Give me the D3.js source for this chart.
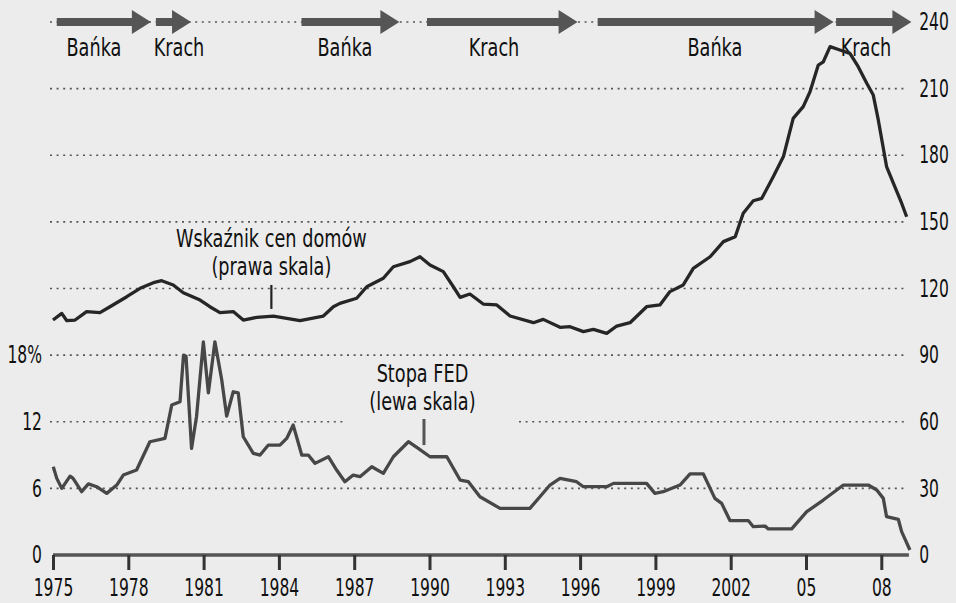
<!DOCTYPE html>
<html>
<head>
<meta charset="utf-8">
<title>Bańka i krach</title>
<script src="https://cdn.jsdelivr.net/npm/d3@7"></script>
<style type="text/css">
    body{ margin:0; background:#ececec; }
    svg text{
        font-family: "Liberation Sans Narrow", "DejaVu Sans Condensed", "Roboto", sans-serif;
        font-size: 24px;
        fill: #111;
    }
</style>
</head>
<body>
<svg id="chart" width="956" height="603"></svg>

<script type="text/javascript">

// house price index, right scale  [year, value]
var hpi = [
  [1975.0,105.8],[1975.35,108.8],[1975.55,105.5],[1975.88,105.8],[1976.34,109.6],[1976.87,109.1],
  [1977.27,111.8],[1977.94,116.3],[1978.47,120.1],[1979.0,122.6],[1979.33,123.5],[1979.79,121.6],
  [1980.19,118.1],[1980.86,114.8],[1981.25,111.8],[1981.65,109.1],[1982.18,109.6],[1982.58,105.8],
  [1983.12,107.0],[1983.78,107.6],[1984.31,106.6],[1984.84,105.5],[1985.77,107.6],[1986.17,111.8],
  [1986.43,113.3],[1987.1,115.6],[1987.5,120.8],[1988.16,124.6],[1988.56,129.8],[1989.22,132.1],
  [1989.62,134.3],[1990.02,130.6],[1990.55,127.6],[1990.95,120.8],[1991.22,116.0],[1991.61,117.5],
  [1992.14,113.0],[1992.68,112.6],[1993.21,107.6],[1994.14,104.6],[1994.53,106.1],[1995.2,102.5],
  [1995.6,102.8],[1996.13,100.6],[1996.53,101.6],[1997.06,99.8],[1997.46,103.1],[1997.99,104.6],
  [1998.65,111.8],[1999.18,112.6],[1999.58,118.6],[2000.11,121.6],[2000.51,129.1],[2001.18,134.3],
  [2001.71,141.1],[2002.18,143.3],[2002.5,153.9],[2002.9,159.5],[2003.24,160.6],[2003.7,170.4],
  [2004.1,179.4],[2004.49,196.6],[2004.89,201.9],[2005.16,208.6],[2005.49,220.6],[2005.69,222.1],
  [2005.96,228.9],[2006.35,227.4],[2006.75,225.9],[2007.08,219.9],[2007.42,212.4],[2007.68,207.1],
  [2007.88,195.9],[2008.21,174.9],[2008.48,167.4],[2008.81,158.4],[2009.01,152.3]
];

// fed funds rate %, left scale  [year, rate]
var fed = [
  [1975.01,7.95],[1975.15,6.9],[1975.35,6.0],[1975.68,7.1],[1975.8,6.9],[1976.14,5.7],[1976.41,6.4],
  [1976.74,6.15],[1977.14,5.55],[1977.54,6.3],[1977.8,7.2],[1978.33,7.65],[1978.86,10.2],[1979.46,10.5],
  [1979.73,13.5],[1980.06,13.8],[1980.2,18.0],[1980.3,17.9],[1980.52,9.6],[1980.72,12.5],[1980.99,19.2],
  [1981.19,14.6],[1981.45,19.2],[1981.72,15.8],[1981.92,12.5],[1982.18,14.7],[1982.38,14.6],[1982.58,10.65],
  [1982.98,9.15],[1983.25,9.0],[1983.58,9.9],[1984.04,9.9],[1984.31,10.5],[1984.57,11.7],[1984.91,9.0],
  [1985.17,9.0],[1985.44,8.25],[1985.97,8.85],[1986.3,7.65],[1986.63,6.6],[1986.96,7.2],[1987.23,7.05],
  [1987.7,7.95],[1988.16,7.35],[1988.56,8.85],[1989.16,10.2],[1989.55,9.6],[1990.02,8.85],[1990.69,8.85],
  [1991.22,6.75],[1991.55,6.6],[1992.01,5.25],[1992.81,4.2],[1994.0,4.2],[1994.4,5.25],[1994.8,6.3],
  [1995.2,6.9],[1995.86,6.6],[1996.13,6.15],[1997.06,6.15],[1997.33,6.45],[1998.65,6.45],[1998.98,5.55],
  [1999.31,5.7],[1999.98,6.3],[2000.38,7.3],[2000.91,7.3],[2001.37,5.1],[2001.64,4.65],[2001.97,3.1],
  [2002.7,3.1],[2002.9,2.55],[2003.37,2.6],[2003.5,2.35],[2004.43,2.35],[2005.03,3.9],[2005.69,4.95],
  [2006.49,6.3],[2007.48,6.3],[2007.82,5.85],[2008.08,5.1],[2008.21,3.45],[2008.68,3.2],[2008.81,2.1],
  [2009.14,0.45]
];

// bubble / crash phases
var phaseNames  = ['Bańka', 'Krach', 'Bańka', 'Krach', 'Bańka', 'Krach'];
var phaseStart  = [1975.15, 1979.1, 1984.9, 1989.9, 1996.7, 2006.2];
var phaseEnd    = [1978.9, 1980.5, 1988.8, 1995.9, 2006.1, 2009.2];
var phaseLabelX = [1976.63, 1980.02, 1986.63, 1992.57, 2001.37, 2007.39];

var yearTicks  = [1975, 1978, 1981, 1984, 1987, 1990, 1993, 1996, 1999, 2002, 2005, 2008];
var yearLabels = ['1975', '1978', '1981', '1984', '1987', '1990', '1993', '1996', '1999', '2002', '05', '08'];
var rightTicks = [0, 30, 60, 90, 120, 150, 180, 210, 240];
var leftTicks  = [0, 6, 12, 18];
var leftLabels = ['0', '6', '12', '18%'];

// squeeze text to look like a condensed face (digits are wider in the fallback font)
var SX = 0.82, SXnum = 0.72;

var svg = d3.select('#chart');

var x  = d3.scaleLinear().domain([1975, 2009]).range([53, 906.4]);
var yR = d3.scaleLinear().domain([0, 240]).range([555, 22]);
var yL = d3.scaleLinear().domain([0, 48]).range([555, 22]);   // 18% == 90

svg.append('rect').attr('width', 956).attr('height', 603).attr('fill', '#ececec');

// gridlines (60 line has a gap for the fed label)
var grid = svg.append('g').attr('stroke', '#555').attr('stroke-width', 1.6).attr('stroke-dasharray', '2,4.6');
rightTicks.filter(function(v){ return v > 0; }).forEach(function(v){
    if(v === 60){
        grid.append('line').attr('x1', 50).attr('x2', 343).attr('y1', yR(v)).attr('y2', yR(v));
        grid.append('line').attr('x1', 519).attr('x2', 906).attr('y1', yR(v)).attr('y2', yR(v));
    } else {
        grid.append('line').attr('x1', 50).attr('x2', v === 240 ? 909 : 906).attr('y1', yR(v)).attr('y2', yR(v));
    }
});

// phase arrows
var arrows = svg.append('g').attr('fill', '#555');
phaseNames.forEach(function(name, i){
    var x0 = x(phaseStart[i]), x1 = x(phaseEnd[i]), xh = x1 - 19, yc = yR(240);
    arrows.append('path')
        .attr('d', 'M' + x0 + ',' + (yc - 4) + 'H' + xh + 'V' + (yc - 12) + 'L' + x1 + ',' + yc +
                   'L' + xh + ',' + (yc + 12) + 'V' + (yc + 4) + 'H' + x0 + 'Z');
    svg.append('text')
        .attr('transform', 'translate(' + x(phaseLabelX[i]) + ',56) scale(' + SX + ',1)')
        .attr('text-anchor', 'middle')
        .text(name);
});

// lines
var lineR = d3.line().x(function(d){ return x(d[0]); }).y(function(d){ return yR(d[1]); });
var lineL = d3.line().x(function(d){ return x(d[0]); }).y(function(d){ return yL(d[1]); });

svg.append('path').datum(fed)
    .attr('d', lineL).attr('fill', 'none')
    .attr('stroke', '#474747').attr('stroke-width', 3.3).attr('stroke-linejoin', 'round');

svg.append('path').datum(hpi)
    .attr('d', lineR).attr('fill', 'none')
    .attr('stroke', '#262626').attr('stroke-width', 3.3).attr('stroke-linejoin', 'round');

// x axis
var xAxis = d3.axisBottom(x)
    .tickValues(yearTicks)
    .tickFormat(function(d, i){ return yearLabels[i]; })
    .tickSizeInner(15).tickSizeOuter(0).tickPadding(9);

var gx = svg.append('g').attr('transform', 'translate(0,555)').call(xAxis);
gx.select('.domain').attr('d', 'M' + x(1975) + ',0H' + x(2009.1)).attr('stroke', '#555').attr('stroke-width', 3.5);
gx.selectAll('.tick line').attr('stroke', '#333').attr('stroke-width', 3);
gx.selectAll('.tick text').attr('dy', '0.71em').attr('transform', 'scale(' + SXnum + ',1)');

// right axis
var gr = svg.append('g').attr('transform', 'translate(912,0)')
    .call(d3.axisRight(yR).tickValues(rightTicks).tickSize(0).tickPadding(10));
gr.select('.domain').remove();
gr.selectAll('.tick text').attr('transform', 'scale(' + SXnum + ',1)');

// left axis
var gl = svg.append('g').attr('transform', 'translate(42,0)')
    .call(d3.axisLeft(yL).tickValues(leftTicks).tickSize(0).tickPadding(0)
        .tickFormat(function(d, i){ return leftLabels[i]; }));
gl.select('.domain').remove();
gl.selectAll('.tick text').attr('transform', 'scale(' + SXnum + ',1)');

svg.selectAll('.tick text').attr('fill', '#111').style('font-size', '24px')
    .style('font-family', '"Liberation Sans Narrow", "DejaVu Sans Condensed", sans-serif');

// annotations
function label(lines, cx, cy){
    lines.forEach(function(t, i){
        svg.append('text')
            .attr('transform', 'translate(' + cx + ',' + (cy + i * 28) + ') scale(' + SX + ',1)')
            .attr('text-anchor', 'middle')
            .text(t);
    });
}

label(['Wskaźnik cen domów', '(prawa skala)'], x(1983.7), yR(138.6));
svg.append('line')
    .attr('x1', x(1983.7)).attr('x2', x(1983.7))
    .attr('y1', yR(121.6)).attr('y2', yR(110.8))
    .attr('stroke', '#222').attr('stroke-width', 2.2);

label(['Stopa FED', '(lewa skala)'], x(1989.72), yL(15.6));
svg.append('line')
    .attr('x1', x(1989.78)).attr('x2', x(1989.78))
    .attr('y1', yL(12.25)).attr('y2', yL(9.9))
    .attr('stroke', '#555').attr('stroke-width', 3);

</script>
</body>
</html>
